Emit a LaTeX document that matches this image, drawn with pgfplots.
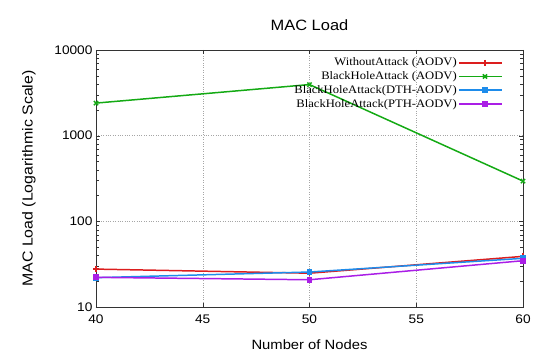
\documentclass[border=0pt]{standalone}
\usepackage{pgfplots}
\pgfplotsset{compat=1.18}
\usepackage{fontspec}
\setmainfont{Liberation Sans}
\newfontfamily\legfont[FakeStretch=1.1]{Liberation Serif}
\newfontfamily\labfont[FakeStretch=1.1]{Liberation Sans}
\definecolor{cred}{RGB}{220,30,30}
\definecolor{cgreen}{RGB}{20,170,20}
\definecolor{cblue}{RGB}{30,140,235}
\definecolor{cpurple}{RGB}{170,30,230}
\begin{document}
\begin{tikzpicture}
\useasboundingbox (-96bp,-49bp) rectangle (439bp,307bp);
\begin{axis}[
  scale only axis, width=427bp, height=257bp,
  ymode=log, xmin=40, xmax=60, ymin=10, ymax=10000,
  xtick={40,45,50,55,60},
  ytick={10,100,1000,10000},
  log ticks with fixed point,
  /pgf/number format/assume math mode=true,
  /pgf/number format/1000 sep={},
  grid=major,
  grid style={dotted, gray!70},
  axis line style={gray!40!black},
  tick style={gray!40!black},
  tick label style={font=\labfont\fontsize{12.5}{15}\selectfont},
  xticklabel style={yshift=-4bp},
  title={MAC Load},
  title style={font=\labfont\fontsize{15}{17}\selectfont, yshift=10bp},
  xlabel={Number of Nodes},
  ylabel={MAC Load (Logarithmic Scale)},
  xlabel style={font=\labfont\fontsize{13.5}{15}\selectfont, yshift=-10bp},
  ylabel style={font=\labfont\fontsize{14.5}{16}\selectfont, yshift=12bp},
  legend style={at={(0.96,0.985)}, anchor=north east, draw=none, fill=none,
    font=\legfont\fontsize{11.5}{12}\selectfont, row sep=0.3pt,
    cells={anchor=east}},
  legend plot pos=right,
  legend image code/.code={\path (0cm,0cm) -- (0.3cm,0cm);\draw[mark repeat=2,mark phase=2] plot coordinates {(0.3cm,0cm) (0.9cm,0cm) (1.5cm,0cm)};},
  every axis plot/.append style={line width=1.5pt},
]
\addplot[cred, mark=+, mark size=3pt] coordinates {(40,27.7) (50,24.8) (60,39)};
\addlegendentry{WithoutAttack (AODV)}
\addplot[cgreen, mark=x, mark size=3pt] coordinates {(40,2400) (50,3950) (60,295)};
\addlegendentry{BlackHoleAttack (AODV)}
\addplot[cblue, mark=square*, mark size=2.2pt] coordinates {(40,22) (50,25.6) (60,37)};
\addlegendentry{BlackHoleAttack(DTH-AODV)}
\addplot[cpurple, mark=square*, mark size=2.2pt] coordinates {(40,22.2) (50,20.8) (60,34.7)};
\addlegendentry{BlackHoleAttack(PTH-AODV)}
\end{axis}
\end{tikzpicture}
\end{document}
